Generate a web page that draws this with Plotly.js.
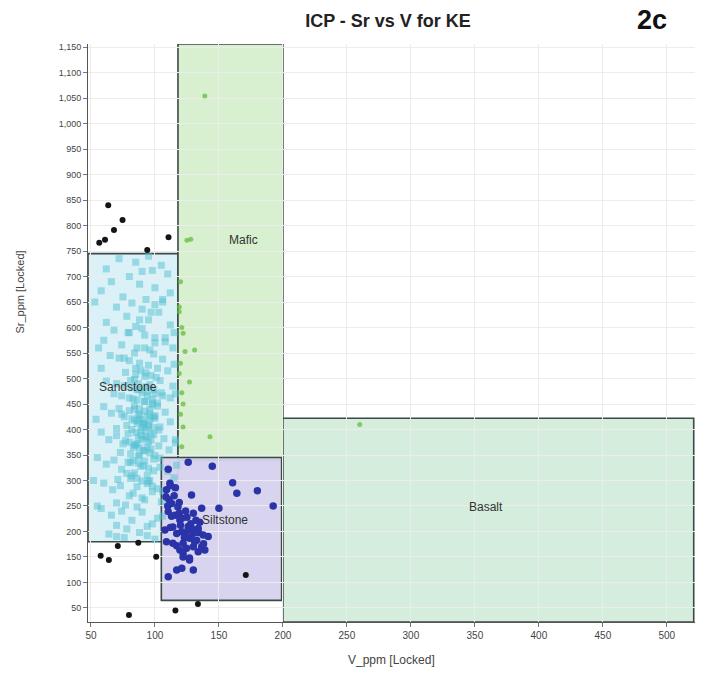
<!DOCTYPE html>
<html>
<head>
<meta charset="utf-8">
<script src="https://cdn.plot.ly/plotly-3.0.1.min.js"></script>
<style>html,body{margin:0;padding:0;background:#fff;}#chart{width:702px;height:673px;}</style>
</head>
<body>
<div id="chart"></div>
<script>
// ---- Data ----
var xTicks = [50,100,150,200,250,300,350,400,450,500];
var yTicks = [50,100,150,200,250,300,350,400,450,500,550,600,650,700,750,800,850,900,950,1000,1050,1100,1150];

// Classification fields: [V min, V max, Sr min, Sr max]
var fieldNames = ["Sandstone","Mafic","Siltstone","Basalt"];
var fieldV0 = [47.7, 118, 105, 200];
var fieldV1 = [118, 200, 199, 521];
var fieldSr0 = [180, 340, 65, 22.5];
var fieldSr1 = [745, 1156, 345, 422];
var fieldLabelV = [79, 169, 155, 359];
var fieldLabelSr = [483, 772, 222, 248];

// Sandstone samples (cyan)
var sandV = [72,85,95,105,62,110,80,98,
  66,88,100,112,75,93,58,106,82,
  70,90,103,78,95,62,112,85,100,
  68,80,92,100,108,74,86,96,60,114,90,
  65,72,80,88,95,102,110,77,85,92,99,106,58,115,
  62,70,76,82,88,94,100,106,112,68,74,80,86,92,98,104,96,84,114,
  60,66,72,76,80,84,88,92,96,100,104,108,112,70,78,86,94,102,82,90,74,98,
  58,64,70,75,79,83,87,91,95,99,103,107,111,116,73,81,89,97,85,93,77,
  55,62,68,74,79,84,89,94,99,104,110,115,71,87,96,81,92,
  60,67,73,80,86,92,98,105,112,77,90,70,95,83,
  58,66,74,82,90,98,106,78,94,70,86,102,
  64,76,88,100,70,94,
  89,91,93,87,95,97,90,86,84,92,88,94,96,99,83,81,
  86,90,94,98,102,84,88,92,96,100,82,87,91,95,99,103,85,89,93,97,
  80,84,88,92,96,100,104,83,87,91,95,99,78,82,86,90,94,98,102,106,
  85,89,93,97,101,81,87,93,99,105,76,84,92,100,108,79,88,97,106,90,
  52,54,56,53,55,117,116,115,117,116];
var sandSr = [735,728,740,722,715,705,700,712,
  690,685,678,668,660,655,672,650,648,
  640,636,630,622,615,610,605,602,645,
  595,590,585,580,572,566,560,556,575,560,598,
  545,540,535,530,526,520,515,512,508,504,548,538,520,528,
  495,490,486,482,478,474,470,466,462,470,466,462,458,455,452,496,488,498,485,
  445,432,441,425,437,418,428,410,440,422,405,434,415,402,408,412,426,446,400,404,430,448,
  395,380,388,372,392,365,384,358,376,390,368,382,360,374,355,352,398,362,370,386,378,
  345,332,340,322,336,315,328,310,342,326,318,305,302,348,300,304,338,
  295,282,290,270,288,262,278,258,285,252,266,256,298,275,
  245,232,240,222,238,215,230,205,210,212,248,226,
  195,188,198,185,190,192,
  420,412,398,430,405,392,380,372,440,455,350,365,418,425,460,335,
  478,472,466,459,452,446,441,436,431,427,421,417,413,409,404,399,394,389,384,379,
  375,369,364,359,354,349,344,339,334,329,324,319,314,309,304,299,294,289,284,279,
  520,516,511,506,502,496,490,484,478,472,540,550,560,570,580,590,615,630,655,710,
  300,420,560,650,250,330,470,590,250,380];

// Mafic samples (green)
var maficV = [139,125,128,119,122,123.5,131,127,121,122,143,121,120,119,121,120,119,122,120,260];
var maficSr = [1054,771,773,631,589,553,556,493,472,405,386,366,690,640,600,530,510,450,430,410];

// Siltstone samples (dark blue)
var siltV = [126,144.8,110.4,111.7,160.7,164,180,192.4,128.6,119,150,108.6,113,110.4,115.6,119.5,130,136.5,
  107.8,114,121,126,130,133.8,137.7,141.6,127,132.6,122,124.7,130,136.5,139,119.5,122,133.8,127,109,114,
  121,117,130,110.4,112,109,116,118,124,128,132,135,125,120,117,123,129,134,111,115,121,126,131,138,
  113,119,124,128,117,122,127,110,112];
var siltSr = [336,328,322,294.5,295.7,275,280,250,271.6,257,245.5,268,255,239,232,222.5,235.6,245.5,
  203,209,199.6,203,196.5,206,193,190,186.6,183,176.8,167,170,170,163.7,163.7,157,160.4,144,180,176.8,
  127.8,124.5,124.5,111.4,290,282,286,248,240,215,222,218,228,212,196,188,205,198,262,270,226,210,180,176,
  230,236,192,188,172,150,148,250,208];

// Unclassified samples (black)
var otherV = [63.5,74.7,68,56.5,61,94,110.6,57.6,64,71,87,101,79.7,116,133.6,171];
var otherSr = [840,811,791,766,772,752,777,152.5,144,171.6,178,150.6,36,45,57.8,114.7];

// ---- Shapes for fields ----
var fieldFill = ["rgba(214,240,247,0.9)","rgba(214,238,206,0.95)","rgba(214,210,238,0.95)","rgba(210,236,218,0.95)"];
var shapes = [];
for (var i = 0; i < fieldNames.length; i++) {
  shapes.push({type:"rect", xref:"x", yref:"y", layer:"below",
    x0:fieldV0[i], x1:fieldV1[i], y0:fieldSr0[i], y1:fieldSr1[i],
    fillcolor:fieldFill[i], line:{color:"#3a4a44", width:1.6}});
}

var font = "Liberation Sans, Arial, sans-serif";

var traces = [
  {type:"scatter", mode:"markers", x:sandV, y:sandSr, hoverinfo:"skip",
   marker:{symbol:"square", size:7, color:"rgba(84,192,210,0.5)", line:{width:0}}},
  {type:"scatter", mode:"markers", x:maficV, y:maficSr, hoverinfo:"skip",
   marker:{symbol:"circle", size:5, color:"rgba(100,190,60,0.75)", line:{width:0}}},
  {type:"scatter", mode:"markers", x:siltV, y:siltSr, hoverinfo:"skip",
   marker:{symbol:"circle", size:7.5, color:"#2a34a8", line:{width:0}}},
  {type:"scatter", mode:"markers", x:otherV, y:otherSr, hoverinfo:"skip",
   marker:{symbol:"circle", size:6, color:"#151515", line:{width:0}}}
];

var annotations = [];
for (var j = 0; j < fieldNames.length; j++) {
  annotations.push({xref:"x", yref:"y", x:fieldLabelV[j], y:fieldLabelSr[j], text:fieldNames[j],
    showarrow:false, font:{family:font, size:12, color:"#333"}});
}
annotations.push({xref:"paper", yref:"paper", x:0.929, y:1.0415, text:"<b>2c</b>", showarrow:false,
  font:{family:font, size:27, color:"#111"}, xanchor:"center", yanchor:"middle"});
annotations.push({xref:"paper", yref:"paper", x:0.5, y:-0.066, text:"V_ppm [Locked]", showarrow:false,
  font:{family:font, size:12, color:"#444"}, xanchor:"center", yanchor:"middle"});
annotations.push({xref:"paper", yref:"paper", x:-0.112, y:0.57, text:"Sr_ppm [Locked]", showarrow:false, textangle:-90,
  font:{family:font, size:11, color:"#444"}, xanchor:"center", yanchor:"middle"});

var layout = {
  width:702, height:673,
  margin:{l:88, r:7, t:44, b:51},
  paper_bgcolor:"#fff", plot_bgcolor:"#fff",
  showlegend:false, hovermode:false,
  title:{text:"<b>ICP - Sr vs V for KE</b>", x:388/702, xanchor:"center", y:1-21/673, yanchor:"middle",
    xref:"container", yref:"container", font:{family:font, size:18, color:"#222"}},
  xaxis:{range:[47.7,522], tickvals:xTicks, ticktext:xTicks.map(String), showgrid:true, gridcolor:"#ececec",
    zeroline:false, showline:true, linecolor:"#555", linewidth:1, ticks:"outside", ticklen:4, tickcolor:"#777",
    tickfont:{family:font, size:10, color:"#444"}, mirror:false},
  yaxis:{range:[22.5,1156], tickvals:yTicks, tickformat:",d", showgrid:true, gridcolor:"#ececec",
    zeroline:false, showline:true, linecolor:"#555", linewidth:1, ticks:"outside", ticklen:4, tickcolor:"#777",
    tickfont:{family:font, size:9, color:"#444"}},
  shapes:shapes,
  annotations:annotations
};

Plotly.newPlot("chart", traces, layout, {staticPlot:true, displayModeBar:false});
</script>
</body>
</html>
